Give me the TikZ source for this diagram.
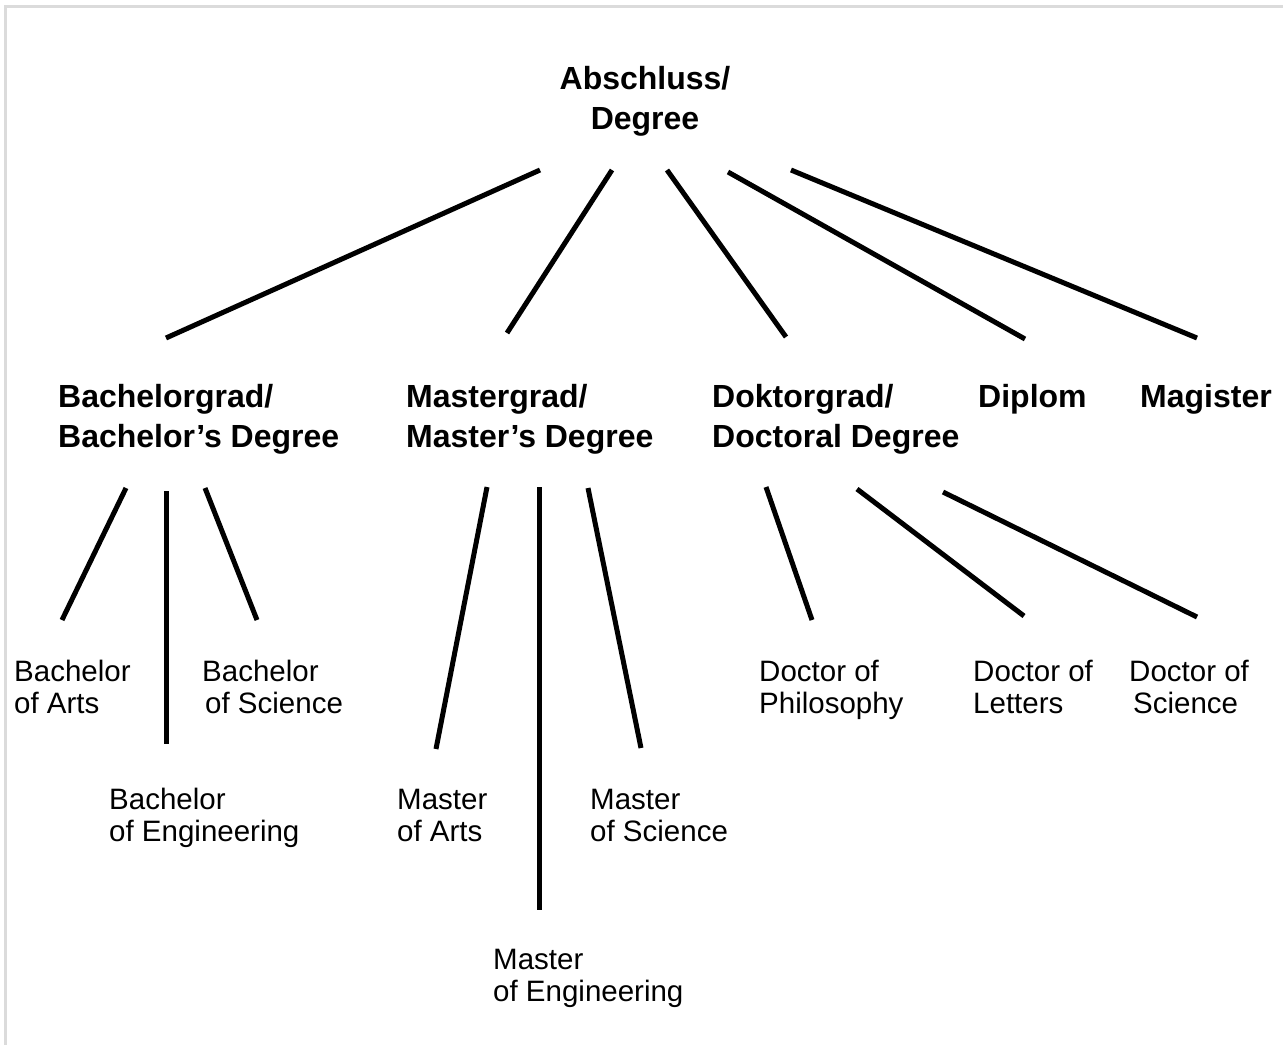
\documentclass[tikz,border=0pt]{standalone}
\usepackage{fontspec}
\setmainfont{Liberation Sans}
\begin{document}
\begin{tikzpicture}[x=1pt,y=-1pt,
  branch/.style={line width=5pt,black},
  head/.style={font=\fontsize{32}{40}\selectfont\bfseries,inner sep=0pt,anchor=base west,align=left},
  leaf/.style={font=\fontsize{29.5}{32}\selectfont,inner sep=0pt,anchor=base west,align=left}]
\useasboundingbox (0,0) rectangle (1283,1045);
% frame edge along the top and left side
\draw[line width=3pt,gray!28] (1283,6) -- (5,6) -- (5,1045);

% root (base anchor sits on the last line)
\node[head,anchor=base,align=center] (root) at (645,129) {Abschluss/\\Degree};

% second level
\node[head] (bach) at (58,447) {Bachelorgrad/\\Bachelor’s Degree};
\node[head] (mast) at (406,447) {Mastergrad/\\Master’s Degree};
\node[head] (dokt) at (712,447) {Doktorgrad/\\Doctoral Degree};
\node[head] (dipl) at (978,407) {Diplom};
\node[head] (magi) at (1140,407) {Magister};

% third level
\node[leaf] (ba)  at (14,713)  {Bachelor\\of Arts};
\node[leaf] (bs)  at (202,713) {Bachelor\\\hspace*{3pt}of Science};
\node[leaf] (be)  at (109,841) {Bachelor\\of Engineering};
\node[leaf] (ma)  at (397,841) {Master\\of Arts};
\node[leaf] (ms)  at (590,841) {Master\\of Science};
\node[leaf] (me)  at (493,1001) {Master\\of Engineering};
\node[leaf] (dp)  at (759,713) {Doctor of\\Philosophy};
\node[leaf] (dl)  at (973,713) {Doctor of\\Letters};
\node[leaf] (dsc) at (1129,713) {Doctor of\\\hspace*{4pt}Science};

% connector end points
\coordinate (r1) at (540,170);  \coordinate (bachT) at (166,338);
\coordinate (r2) at (612,170);  \coordinate (mastT) at (507,333);
\coordinate (r3) at (667,170);  \coordinate (doktT) at (786,337);
\coordinate (r4) at (728,172);  \coordinate (diplT) at (1025,339);
\coordinate (r5) at (791,170);  \coordinate (magiT) at (1197,338);

\coordinate (b1) at (126,488);  \coordinate (baT) at (62,620);
\coordinate (b2) at (166,491);  \coordinate (beT) at (166,744);
\coordinate (b3) at (205,488);  \coordinate (bsT) at (257,620);

\coordinate (m1) at (487,487);  \coordinate (maT) at (436,749);
\coordinate (m2) at (539,487);  \coordinate (meT) at (539,910);
\coordinate (m3) at (588,488);  \coordinate (msT) at (641,748);

\coordinate (d1) at (766,487);  \coordinate (dpT) at (812,620);
\coordinate (d2) at (857,489);  \coordinate (dlT) at (1024,616);
\coordinate (d3) at (943,492);  \coordinate (dsT) at (1197,617);

% connectors
\draw[branch] (r1) -- (bachT);
\draw[branch] (r2) -- (mastT);
\draw[branch] (r3) -- (doktT);
\draw[branch] (r4) -- (diplT);
\draw[branch] (r5) -- (magiT);

\draw[branch] (b1) -- (baT);
\draw[branch] (b2) -- (beT);
\draw[branch] (b3) -- (bsT);

\draw[branch] (m1) -- (maT);
\draw[branch] (m2) -- (meT);
\draw[branch] (m3) -- (msT);

\draw[branch] (d1) -- (dpT);
\draw[branch] (d2) -- (dlT);
\draw[branch] (d3) -- (dsT);
\end{tikzpicture}
\end{document}
